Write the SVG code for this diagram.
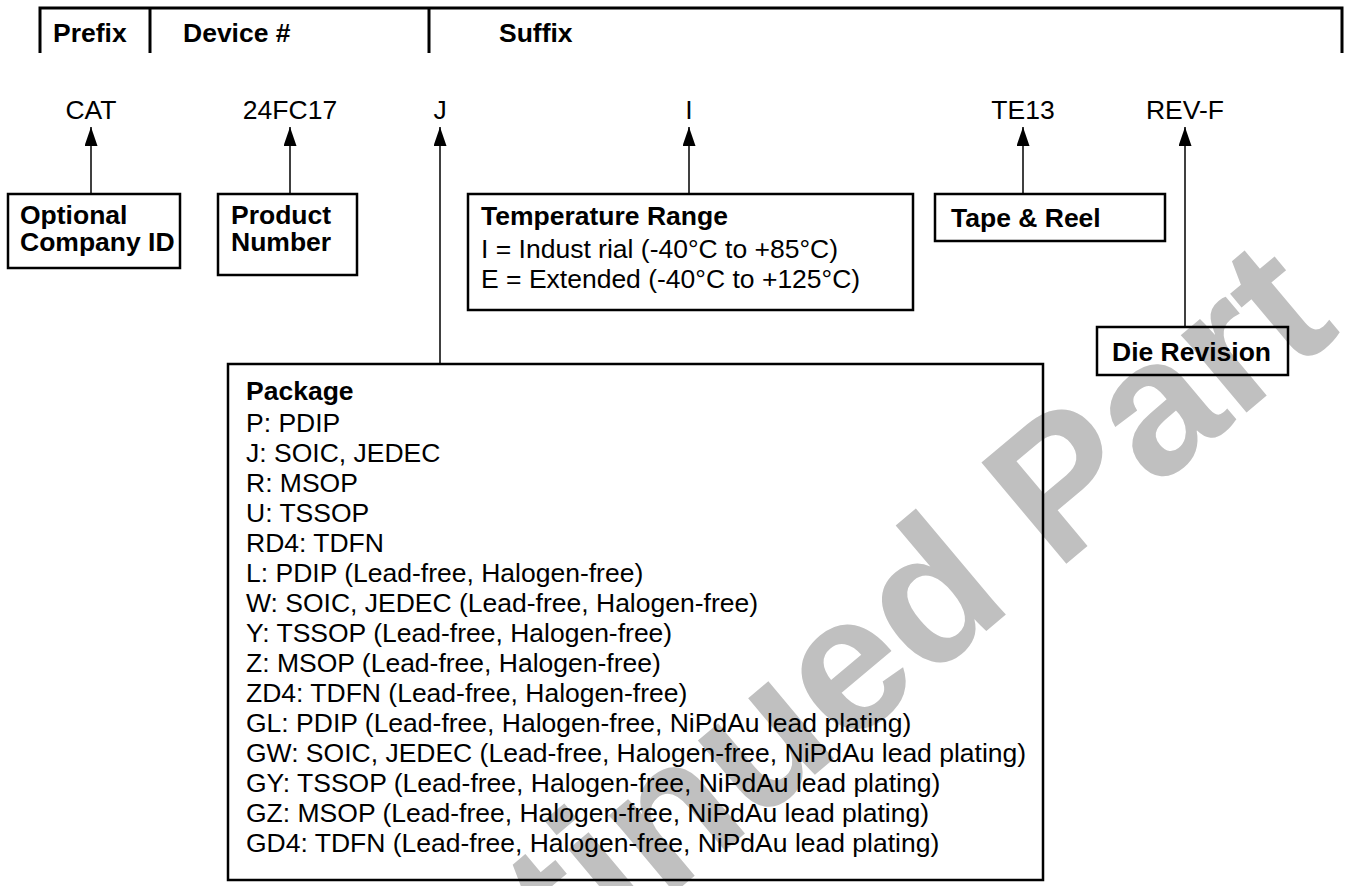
<svg xmlns="http://www.w3.org/2000/svg" width="1352" height="886" viewBox="0 0 1352 886">
<style>
  text { font-family: "Liberation Sans", Arial, Helvetica, sans-serif; fill: #000; }
  .b { font-weight: bold; font-size: 26.5px; }
  .r { font-size: 26.5px; }
  .v { font-size: 26.5px; text-anchor: middle; }
  .box { fill: none; stroke: #000; stroke-width: 2.5; }
  .hdr { fill: none; stroke: #000; stroke-width: 3; }
  .conn { stroke: #000; stroke-width: 1.5; fill: none; }
  .wm { font-family: "Liberation Sans", Arial, sans-serif; font-weight: bold; font-size: 192px; fill: #c0c0c0; }
</style>
<defs>
  <marker id="arrow" viewBox="0 0 19 13" refX="19" refY="6.5" markerWidth="19" markerHeight="13" markerUnits="userSpaceOnUse" orient="auto">
    <path d="M0,0 L19,6.5 L0,13 Z" fill="#000"/>
  </marker>
</defs>
<rect width="1352" height="886" fill="#fff"/>
<g id="watermark">
  <text class="wm" transform="translate(84,1388) rotate(-40)">Discontinued Part</text>
</g>
<g id="header">
  <path class="hdr" d="M40,53 V8 H1342 V53"/>
  <line class="hdr" x1="150" y1="8" x2="150" y2="53"/>
  <line class="hdr" x1="429" y1="8" x2="429" y2="53"/>
  <text class="b" x="53" y="42">Prefix</text>
  <text class="b" x="183" y="42">Device #</text>
  <text class="b" x="499" y="42">Suffix</text>
</g>
<g id="values">
  <text class="v" x="91" y="119">CAT</text>
  <text class="v" x="290" y="119">24FC17</text>
  <text class="v" x="440" y="119">J</text>
  <text class="v" x="689" y="119">I</text>
  <text class="v" x="1023" y="119">TE13</text>
  <text class="v" x="1185" y="119">REV-F</text>
</g>
<g id="connectors">
  <line class="conn" x1="91" y1="194" x2="91" y2="127" marker-end="url(#arrow)"/>
  <line class="conn" x1="290" y1="194" x2="290" y2="127" marker-end="url(#arrow)"/>
  <line class="conn" x1="440" y1="364" x2="440" y2="127" marker-end="url(#arrow)"/>
  <line class="conn" x1="689" y1="194" x2="689" y2="127" marker-end="url(#arrow)"/>
  <line class="conn" x1="1023" y1="194" x2="1023" y2="127" marker-end="url(#arrow)"/>
  <line class="conn" x1="1185" y1="327" x2="1185" y2="127" marker-end="url(#arrow)"/>
</g>
<g id="company-id">
  <rect class="box" x="8" y="194" width="172" height="74"/>
  <text class="b" x="20" y="224">Optional</text>
  <text class="b" x="20" y="251">Company ID</text>
</g>
<g id="product-number">
  <rect class="box" x="218" y="194" width="139" height="81"/>
  <text class="b" x="231" y="224">Product</text>
  <text class="b" x="231" y="251">Number</text>
</g>
<g id="temperature-range">
  <rect class="box" x="468" y="194" width="445" height="116"/>
  <text class="b" x="481" y="225">Temperature Range</text>
  <text class="r" x="481" y="258">I = Indust rial (-40°C to +85°C)</text>
  <text class="r" x="481" y="288">E = Extended (-40°C to +125°C)</text>
</g>
<g id="tape-reel">
  <rect class="box" x="935" y="194" width="230" height="47"/>
  <text class="b" x="951" y="227">Tape &amp; Reel</text>
</g>
<g id="die-revision">
  <rect class="box" x="1097" y="327" width="191" height="48"/>
  <text class="b" x="1112" y="361">Die Revision</text>
</g>
<g id="package">
  <rect class="box" x="228" y="364" width="815" height="516"/>
  <text class="b" x="246" y="400">Package</text>
  <text class="r" x="246" y="432">P: PDIP</text>
  <text class="r" x="246" y="462">J: SOIC, JEDEC</text>
  <text class="r" x="246" y="492">R: MSOP</text>
  <text class="r" x="246" y="522">U: TSSOP</text>
  <text class="r" x="246" y="552">RD4: TDFN</text>
  <text class="r" x="246" y="582">L: PDIP (Lead-free, Halogen-free)</text>
  <text class="r" x="246" y="612">W: SOIC, JEDEC (Lead-free, Halogen-free)</text>
  <text class="r" x="246" y="642">Y: TSSOP (Lead-free, Halogen-free)</text>
  <text class="r" x="246" y="672">Z: MSOP (Lead-free, Halogen-free)</text>
  <text class="r" x="246" y="702">ZD4: TDFN (Lead-free, Halogen-free)</text>
  <text class="r" x="246" y="732">GL: PDIP (Lead-free, Halogen-free, NiPdAu lead plating)</text>
  <text class="r" x="246" y="762">GW: SOIC, JEDEC (Lead-free, Halogen-free, NiPdAu lead plating)</text>
  <text class="r" x="246" y="792">GY: TSSOP (Lead-free, Halogen-free, NiPdAu lead plating)</text>
  <text class="r" x="246" y="822">GZ: MSOP (Lead-free, Halogen-free, NiPdAu lead plating)</text>
  <text class="r" x="246" y="852">GD4: TDFN (Lead-free, Halogen-free, NiPdAu lead plating)</text>
</g>
</svg>
